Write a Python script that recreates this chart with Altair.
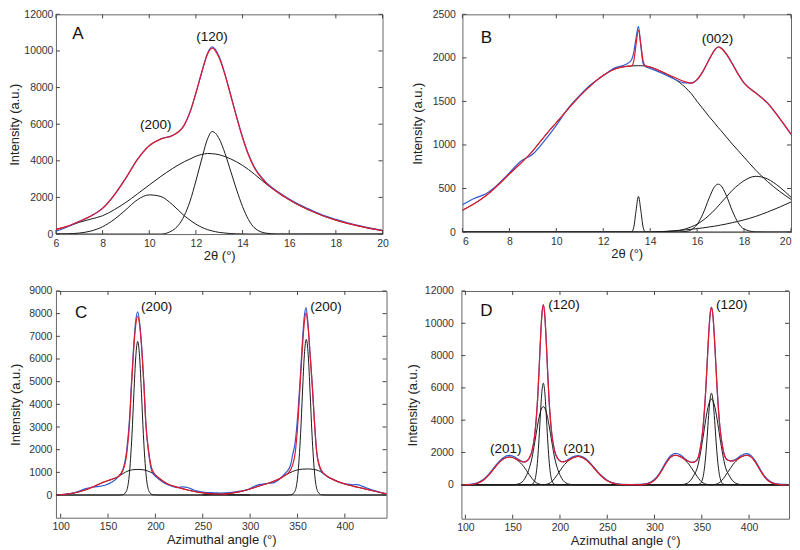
import altair as alt
import pandas as pd

FONT = "Liberation Sans"
RED = "#e31a2c"
BLUE = "#2f5bd0"
BLACK = "#1a1a1a"
TXT = "#333333"

# ---------------- Panel A ----------------
A_x = [6, 6.5, 7, 7.5, 8, 8.5, 9, 9.5, 10, 10.5, 11, 11.5, 11.75, 12, 12.25, 12.5, 12.7, 13, 13.25,
       13.5, 13.75, 14, 14.25, 14.5, 15, 15.5, 16, 16.5, 17, 17.5, 18, 18.5, 19, 19.5, 20]
A_broad = [250, 420, 640, 820, 1000, 1330, 1730, 2200, 2680, 3150, 3580, 3950, 4100, 4250, 4350, 4400, 4390,
           4330, 4230, 4100, 3940, 3750, 3530, 3280, 2750, 2280, 1870, 1520, 1230, 970, 760, 580, 430, 300, 190]
A_g1 = [4, 15, 55, 165, 400, 800, 1330, 1880, 2140, 2050, 1600, 1000, 760, 540, 370, 240, 170, 90, 55,
        27, 14, 7, 3, 0, 0, 0, 0, 0, 0, 0, 0, 0, 0, 0, 0]
A_g2 = [0, 0, 0, 0, 0, 0, 0, 0, 0, 0, 200, 1000, 1800, 2900, 4100, 5200, 5600, 5200, 4400,
        3400, 2400, 1500, 800, 350, 50, 0, 0, 0, 0, 0, 0, 0, 0, 0, 0]
A_fit = [254, 435, 695, 985, 1400, 2130, 3060, 4080, 4820, 5200, 5380, 5950, 6660, 7690, 8820, 9840, 10160,
         9620, 8685, 7527, 6354, 5257, 4333, 3630, 2800, 2280, 1870, 1520, 1230, 970, 760, 580, 430, 300, 190]
A_exp = [150, 400, 690, 990, 1410, 2140, 3070, 4090, 4830, 5200, 5390, 5960, 6680, 7720, 8850, 9880, 10220,
         9680, 8720, 7560, 6390, 5290, 4370, 3670, 2840, 2330, 1920, 1570, 1275, 1010, 800, 615, 460, 320, 200]
A_lab_t = ["(200)", "(120)"]
A_lab_x = [10.28, 12.69]
A_lab_y = [5960, 10740]

# ---------------- Panel B ----------------
B_x = [6, 6.5, 7, 7.5, 8, 8.5, 9, 9.5, 10, 10.5, 11, 11.5, 12, 12.5, 13, 13.2, 13.3, 13.4, 13.5, 13.6, 13.7,
       13.8, 14, 14.5, 15, 15.5, 15.75, 16, 16.25, 16.5, 16.75, 16.9, 17, 17.25, 17.5, 17.75, 18, 18.5, 19,
       19.5, 20]
B_broad = [250, 325, 417, 535, 667, 793, 933, 1100, 1257, 1412, 1560, 1690, 1800, 1873, 1903, 1907, 1909, 1910,
           1910, 1910, 1909, 1907, 1895, 1840, 1765, 1660, 1590, 1500, 1415, 1330, 1250, 1200, 1170, 1090, 1010,
           935, 860, 710, 580, 470, 375]
B_spike = [0, 0, 0, 0, 0, 0, 0, 0, 0, 0, 0, 0, 0, 0, 0, 0, 55, 250, 410, 250, 55,
           0, 0, 0, 0, 0, 0, 0, 0, 0, 0, 0, 0, 0, 0, 0, 0, 0, 0, 0, 0]
B_p002 = [0, 0, 0, 0, 0, 0, 0, 0, 0, 0, 0, 0, 0, 0, 0, 0, 0, 0, 0, 0, 0,
          0, 0, 0, 0, 6, 27, 87, 210, 382, 523, 550, 538, 416, 243, 106, 35, 2, 0, 0, 0]
B_hump = [0, 0, 0, 0, 0, 0, 0, 0, 0, 0, 0, 0, 0, 0, 0, 0, 0, 0, 0, 0, 0,
          0, 0, 5, 10, 35, 60, 90, 135, 190, 255, 300, 330, 405, 480, 540, 590, 640, 610, 520, 400]
B_rise = [0, 0, 0, 0, 0, 0, 0, 0, 0, 0, 0, 0, 0, 0, 0, 0, 0, 0, 0, 0, 0,
          0, 0, 5, 15, 25, 32, 40, 48, 58, 68, 75, 80, 93, 108, 123, 140, 180, 230, 285, 345]
B_fit = [250, 325, 417, 535, 667, 793, 933, 1100, 1257, 1412, 1560, 1690, 1800, 1873, 1903, 1907, 1964, 2160,
         2320, 2160, 1964, 1907, 1895, 1840, 1780, 1725, 1710, 1750, 1845, 1975, 2090, 2125, 2115, 2040, 1930,
         1810, 1710, 1595, 1480, 1310, 1125]
B_exp = [313, 385, 440, 545, 680, 815, 896, 1050, 1225, 1420, 1570, 1700, 1795, 1885, 1930, 1975, 2060, 2230,
         2363, 2140, 1935, 1900, 1880, 1825, 1760, 1712, 1712, 1752, 1848, 1975, 2092, 2128, 2118, 2045, 1935,
         1815, 1712, 1600, 1482, 1312, 1120]
B_lab_t = ["(002)"]
B_lab_x = [16.87]
B_lab_y = [2216]

# ---------------- Panel C ----------------
C_fit_x = [95, 104.7, 115.2, 125.7, 136.2, 146.7, 153.7, 160.7, 165.9, 169.8, 172.9, 174.7, 176.8, 179, 181.3,
           183.6, 185.9, 188, 189.7, 193.2, 196.7, 202, 213.1, 223.6, 234.1, 244.6, 255.1, 265, 272, 278.9,
           289.4, 299.9, 310.4, 320.9, 329.6, 334.8, 342.6, 347.5, 350.6, 352.7, 354.8, 357, 359, 361, 363.2,
           365.7, 367.8, 370.5, 375.1, 382.1, 387.3, 397.8, 408.3, 418.8, 429.3, 441.6, 444]
C_fit_y = [0, 30, 100, 220, 400, 590, 690, 810, 1100, 1835, 3300, 4770, 6240, 7400, 7885, 7400, 6240, 4770,
           3300, 1835, 1100, 810, 485, 340, 220, 130, 73, 45, 40, 73, 147, 264, 411, 543, 690, 810, 1100, 1835,
           3300, 4770, 6240, 7500, 8032, 7500, 6240, 4770, 3300, 1835, 1100, 810, 690, 514, 396, 294, 190, 73, 50]
C_exp_x = [95, 104.7, 115.2, 125.7, 131, 136.2, 141, 146.7, 153.7, 160.7, 165.9, 169.8, 172.9, 174.7, 176.8,
           179, 181.3, 183.6, 185.9, 188, 189.7, 193.2, 196.7, 202, 207, 213.1, 218, 223.6, 229, 234.1, 239,
           244.6, 250, 255.1, 262, 269.1, 278.9, 289.4, 299.9, 305, 310.4, 315, 320.9, 326, 329.6, 334.8, 338,
           342.6, 345, 347.5, 350.6, 352.7, 354.8, 357, 359, 361, 363.2, 365.7, 367.8, 370.5, 375.1, 382.1,
           387.3, 392, 397.8, 403, 408.3, 413, 418.8, 424, 429.3, 435, 441.6, 444]
C_exp_y = [0, 30, 110, 270, 320, 360, 380, 430, 560, 800, 1150, 2000, 3500, 4900, 6400, 7600, 8076, 7500,
           6300, 4800, 3300, 1750, 1000, 760, 600, 450, 380, 330, 360, 330, 250, 170, 130, 110, 100, 90, 110,
           170, 280, 400, 470, 490, 520, 560, 650, 850, 1000, 1300, 1800, 2300, 3700, 5000, 6500, 7800, 8267,
           7600, 6300, 4800, 3300, 1800, 1050, 800, 700, 600, 520, 480, 450, 460, 380, 300, 220, 150, 70, 50]
C_n1_x = [95, 161.3, 165.3, 169.3, 172.3, 175.3, 177.3, 179.3, 181.3, 183.3, 185.3, 187.3, 190.3, 193.3, 197.3,
          201.3, 444]
C_n1_y = [0, 0, 9, 165, 835, 2675, 4490, 6110, 6780, 6110, 4490, 2675, 835, 165, 9, 0, 0]
C_n2_x = [95, 339.3, 343.3, 347.3, 350.3, 353.3, 355.3, 357.3, 359.3, 361.3, 363.3, 365.3, 368.3, 371.3, 375.3,
          379.3, 444]
C_n2_y = [0, 0, 9, 167, 846, 2710, 4545, 6195, 6870, 6195, 4545, 2710, 846, 167, 9, 0, 0]
C_b1_x = [95, 104.7, 115.2, 125.7, 136.2, 146.7, 153.7, 160.7, 166, 171, 176, 181.5, 187, 192, 197, 202, 213.1,
          223.6, 234.1, 244.6, 255.1, 265, 280, 300]
C_b1_y = [0, 30, 100, 220, 400, 590, 690, 810, 950, 1060, 1115, 1130, 1115, 1060, 960, 810, 485, 340, 220, 130,
          73, 40, 10, 0]
C_b2_x = [250, 265, 278.9, 289.4, 299.9, 310.4, 320.9, 329.6, 334.8, 340, 345, 350, 355, 361, 367, 372, 377,
          382.1, 387.3, 397.8, 408.3, 418.8, 429.3, 441.6, 444]
C_b2_y = [0, 40, 73, 147, 264, 411, 543, 690, 810, 940, 1040, 1110, 1140, 1150, 1130, 1080, 960, 810, 690, 514,
          396, 294, 190, 73, 50]
C_lab_t = ["(200)", "(200)"]
C_lab_x = [201.3, 380.2]
C_lab_y = [8295, 8295]

# ---------------- Panel D ----------------
D_x = [95.5, 100, 105, 110, 115, 120, 125, 130, 135, 140, 146.5, 152.4, 155.4, 158.4, 161.4, 164.4, 167.4,
       170.4, 173.4, 176.4, 177.9, 179.4, 180.9, 182.4, 183.9, 185.4, 186.9, 188.4, 191.4, 194.4, 197.4, 200.4,
       203.4, 206.4, 209.4, 212.4, 219, 225, 230, 235, 240, 245, 250, 255, 260, 266, 275, 282, 287, 292, 297,
       302, 307, 312, 317, 322, 327.2, 330.2, 333.2, 336.2, 339.2, 342.2, 345.2, 348.2, 351.2, 354.2, 355.7,
       357.2, 358.7, 360.2, 361.7, 363.2, 364.7, 366.2, 369.2, 372.2, 375.2, 378.2, 381.2, 384.2, 387.2, 390.2,
       393.2, 397.5, 402.5, 407.5, 412.5, 417.5, 422.5, 427.5, 432.5, 437.5, 442]
D_fit = [0, 5, 15, 50, 150, 330, 620, 980, 1330, 1590, 1720, 1630, 1540, 1460, 1410, 1460, 1641, 2083, 3128,
         5351, 7093, 8997, 10540, 11135, 10540, 8997, 7093, 5351, 3128, 2083, 1641, 1460, 1410, 1460, 1540, 1630,
         1760, 1640, 1420, 1100, 760, 470, 250, 120, 50, 15, 5, 5, 15, 55, 165, 400, 820, 1320, 1700, 1830, 1745,
         1650, 1525, 1440, 1385, 1420, 1565, 2188, 3471, 5931, 7591, 9249, 10508, 10981, 10510, 9255, 7603, 5951,
         3526, 2253, 1645, 1500, 1460, 1490, 1570, 1680, 1765, 1830, 1700, 1320, 820, 400, 165, 55, 15, 0, 0]
D_exp = [0, 10, 25, 70, 185, 380, 680, 1040, 1400, 1680, 1825, 1720, 1600, 1490, 1420, 1450, 1630, 2070, 3120,
         5350, 7090, 8990, 10530, 11150, 10530, 8990, 7080, 5330, 3110, 2070, 1640, 1470, 1430, 1490, 1590, 1700,
         1810, 1700, 1470, 1150, 800, 510, 280, 140, 65, 25, 15, 20, 35, 80, 200, 450, 880, 1400, 1800, 1950,
         1860, 1720, 1560, 1450, 1390, 1420, 1560, 2180, 3460, 5920, 7580, 9240, 10500, 10990, 10500, 9240, 7590,
         5940, 3520, 2250, 1650, 1520, 1490, 1530, 1630, 1760, 1860, 1930, 1790, 1390, 880, 450, 200, 80, 40, 20,
         10]
D_n1_x = [95.5, 164.4, 167.4, 170.4, 173.4, 176.4, 177.9, 179.4, 180.9, 182.4, 183.9, 185.4, 186.9, 188.4,
          191.4, 194.4, 197.4, 200.4, 442]
D_n1_y = [0, 0, 1, 24, 277, 1568, 2880, 4445, 5768, 6290, 5768, 4445, 2880, 1568, 277, 24, 1, 0, 0]
D_w1_x = [95.5, 149.4, 152.4, 155.4, 158.4, 161.4, 164.4, 167.4, 170.4, 173.4, 176.4, 177.9, 179.4, 180.9,
          182.4, 183.9, 185.4, 186.9, 188.4, 191.4, 194.4, 197.4, 200.4, 203.4, 206.4, 209.4, 212.4, 215.4, 442]
D_w1_y = [0, 0, 10, 40, 110, 260, 560, 1000, 1659, 2651, 3703, 4163, 4527, 4760, 4840, 4760, 4527, 4163, 3703,
          2651, 1659, 1000, 560, 260, 110, 40, 10, 0, 0]
D_l1_x = [95.5, 100, 105, 110, 115, 120, 125, 130, 135, 140, 146.5, 152.4, 155.4, 158.4, 161.4, 164.4, 167.4,
          170.4, 173.4, 176.4, 179.4, 182.4, 185.4, 442]
D_l1_y = [0, 5, 15, 50, 150, 330, 620, 980, 1330, 1590, 1720, 1620, 1500, 1350, 1150, 900, 640, 400, 200, 80,
          25, 5, 0, 0]
D_r1_x = [95.5, 182.4, 185.4, 188.4, 191.4, 194.4, 197.4, 200.4, 203.4, 206.4, 209.4, 212.4, 219, 225, 230,
          235, 240, 245, 250, 255, 260, 266, 272, 442]
D_r1_y = [0, 0, 25, 80, 200, 400, 640, 900, 1150, 1350, 1500, 1620, 1760, 1640, 1420, 1100, 760, 470, 250, 120,
          50, 15, 0, 0]
D_n2_x = [95.5, 342.2, 345.2, 348.2, 351.2, 354.2, 355.7, 357.2, 358.7, 360.2, 361.7, 363.2, 364.7, 366.2,
          369.2, 372.2, 375.2, 378.2, 442]
D_n2_y = [0, 0, 5, 63, 451, 1841, 3011, 4280, 5285, 5670, 5285, 4280, 3011, 1841, 451, 63, 5, 0, 0]
D_w2_x = [95.5, 324.2, 327.2, 330.2, 333.2, 336.2, 339.2, 342.2, 345.2, 348.2, 351.2, 354.2, 355.7, 357.2,
          358.7, 360.2, 361.7, 363.2, 364.7, 366.2, 369.2, 372.2, 375.2, 378.2, 381.2, 384.2, 387.2, 390.2,
          393.2, 396.2, 442]
D_w2_y = [0, 0, 5, 20, 60, 160, 360, 650, 1050, 1850, 2900, 4050, 4560, 4960, 5220, 5310, 5220, 4960, 4560,
          4050, 2900, 1850, 1050, 650, 360, 160, 60, 20, 5, 0, 0]
D_l2_x = [95.5, 282, 287, 292, 297, 302, 307, 312, 317, 322, 327.2, 330.2, 333.2, 336.2, 339.2, 342.2, 345.2,
          348.2, 351.2, 354.2, 357.2, 360.2, 442]
D_l2_y = [0, 0, 15, 55, 165, 400, 820, 1320, 1700, 1830, 1740, 1630, 1465, 1280, 1025, 770, 510, 275, 120, 40,
          9, 0, 0]
D_r2_x = [95.5, 359.5, 362.3, 365.3, 368.3, 371.3, 374.3, 377.3, 380.3, 383.3, 386.3, 389.3, 392.3, 397.5,
          402.5, 407.5, 412.5, 417.5, 422.5, 427.5, 432.5, 437.5, 442]
D_r2_y = [0, 0, 9, 40, 120, 275, 510, 770, 1025, 1280, 1465, 1630, 1740, 1830, 1700, 1320, 820, 400, 165, 55,
          15, 0, 0]
D_lab_t = ["(120)", "(120)", "(201)", "(201)"]
D_lab_x = [204.3, 381.7, 142.6, 220.1]
D_lab_y = [11109, 11109, 2199, 2199]

# ---------------- Axes ----------------
TT_X = [6, 8, 10, 12, 14, 16, 18, 20]
A_yticks = [0, 2000, 4000, 6000, 8000, 10000, 12000]
B_yticks = [0, 500, 1000, 1500, 2000, 2500]
AZ_X = [100, 150, 200, 250, 300, 350, 400]
C_yticks = [0, 1000, 2000, 3000, 4000, 5000, 6000, 7000, 8000, 9000]
D_yticks = [0, 2000, 4000, 6000, 8000, 10000, 12000]


def long_df(pairs):
    rows = []
    for name, xs, ys in pairs:
        assert len(xs) == len(ys), name
        for xv, yv in zip(xs, ys):
            rows.append({"s": name, "x": xv, "y": yv})
    return pd.DataFrame(rows)


def panel(xdom, ydom, xticks, yticks, xtitle, comps, exp_xy, fit_xy, lab, letter, w, h,
          lp_y=4, tp_y=3, flush=False):
    xs = alt.Scale(domain=xdom, nice=False, zero=False)
    ys = alt.Scale(domain=ydom, nice=False, zero=False)
    xax = alt.Axis(values=xticks, title=xtitle, tickSize=0, domain=False, grid=False, labelFlush=flush,
                   format="d", labelPadding=4, titlePadding=1)
    yax = alt.Axis(values=yticks, title="Intensity (a.u.)", tickSize=0, domain=False, grid=False,
                   format="d", labelPadding=lp_y, titlePadding=tp_y)
    X = alt.X("x:Q", scale=xs, axis=xax)
    Y = alt.Y("y:Q", scale=ys, axis=yax)

    comp_df = long_df(comps)
    comp = alt.Chart(comp_df).mark_line(color=BLACK, strokeWidth=1, interpolate="monotone", clip=True).encode(
        x=X, y=Y, detail="s:N")
    exp = alt.Chart(long_df([("exp",) + exp_xy])).mark_line(
        color=BLUE, strokeWidth=1.2, interpolate="monotone", clip=True).encode(x=X, y=Y)
    fit = alt.Chart(long_df([("fit",) + fit_xy])).mark_line(
        color=RED, strokeWidth=1.2, interpolate="monotone", clip=True).encode(x=X, y=Y)

    lab_df = pd.DataFrame({"x": lab[1], "y": lab[2], "t": lab[0]})
    labels = alt.Chart(lab_df).mark_text(font=FONT, fontSize=13.5, color="#111").encode(x=X, y=Y, text="t:N")
    let_df = pd.DataFrame({"x": [letter[1]], "y": [letter[2]], "t": [letter[0]]})
    letter_m = alt.Chart(let_df).mark_text(font=FONT, fontSize=17, color="#111").encode(x=X, y=Y, text="t:N")

    xt = pd.DataFrame({"x": xticks})
    yt = pd.DataFrame({"y": yticks})
    tk = dict(color="#444", strokeWidth=1)
    t_bot = alt.Chart(xt).mark_rule(**tk).encode(x=X, y=alt.value(h), y2=alt.value(h - 4))
    t_top = alt.Chart(xt).mark_rule(**tk).encode(x=X, y=alt.value(0), y2=alt.value(4))
    t_left = alt.Chart(yt).mark_rule(**tk).encode(y=Y, x=alt.value(0), x2=alt.value(4))
    t_right = alt.Chart(yt).mark_rule(**tk).encode(y=Y, x=alt.value(w - 4), x2=alt.value(w))

    return alt.layer(comp, exp, fit, labels, letter_m, t_bot, t_top, t_left, t_right).properties(
        width=w, height=h)


pA = panel([6, 20], [0, 12000], TT_X, A_yticks, "2θ (°)",
           [("broad", A_x, A_broad), ("g1", A_x, A_g1), ("g2", A_x, A_g2)],
           (A_x, A_exp), (A_x, A_fit), (A_lab_t, A_lab_x, A_lab_y), ("A", 6.94, 10920), 327, 220,
           lp_y=3, tp_y=2)
pB = panel([6, 20], [0, 2500], TT_X, B_yticks, "2θ (°)",
           [("broad", B_x, B_broad), ("spike", B_x, B_spike), ("p002", B_x, B_p002),
            ("hump", B_x, B_hump), ("rise", B_x, B_rise)],
           (B_x, B_exp), (B_x, B_fit), (B_lab_t, B_lab_x, B_lab_y), ("B", 7.02, 2231), 329, 218,
           lp_y=7, tp_y=8, flush=True)
pC = panel([95, 444], [-1000, 9000], AZ_X, C_yticks, "Azimuthal angle (°)",
           [("n1", C_n1_x, C_n1_y), ("n2", C_n2_x, C_n2_y), ("b1", C_b1_x, C_b1_y), ("b2", C_b2_x, C_b2_y)],
           (C_exp_x, C_exp_y), (C_fit_x, C_fit_y), (C_lab_t, C_lab_x, C_lab_y), ("C", 121.6, 8044), 331, 227,
           lp_y=4, tp_y=6)
pD = panel([95.8, 442.2], [-2100, 12000], AZ_X, D_yticks, "Azimuthal angle (°)",
           [("n1", D_n1_x, D_n1_y), ("w1", D_w1_x, D_w1_y), ("l1", D_l1_x, D_l1_y), ("r1", D_r1_x, D_r1_y),
            ("n2", D_n2_x, D_n2_y), ("w2", D_w2_x, D_w2_y), ("l2", D_l2_x, D_l2_y), ("r2", D_r2_x, D_r2_y)],
           (D_x, D_exp), (D_x, D_fit), (D_lab_t, D_lab_x, D_lab_y), ("D", 122.2, 10754), 328, 228,
           lp_y=8, tp_y=5)

row1 = alt.hconcat(pA, pB, spacing=80, bounds="flush")
row2 = alt.hconcat(pC, pD, spacing=75, bounds="flush")
chart = alt.vconcat(row1, row2, spacing=22).properties(
    padding={"left": 0, "top": 0, "right": 0, "bottom": 0}).configure_view(
    stroke="#666", strokeWidth=1).configure_axis(
    labelFont=FONT, titleFont=FONT, labelFontSize=10.5, titleFontSize=13, labelColor=TXT, titleColor="#222",
    titleFontWeight="normal")

chart.save("out.html", embed_options={"renderer": "svg", "actions": False})
